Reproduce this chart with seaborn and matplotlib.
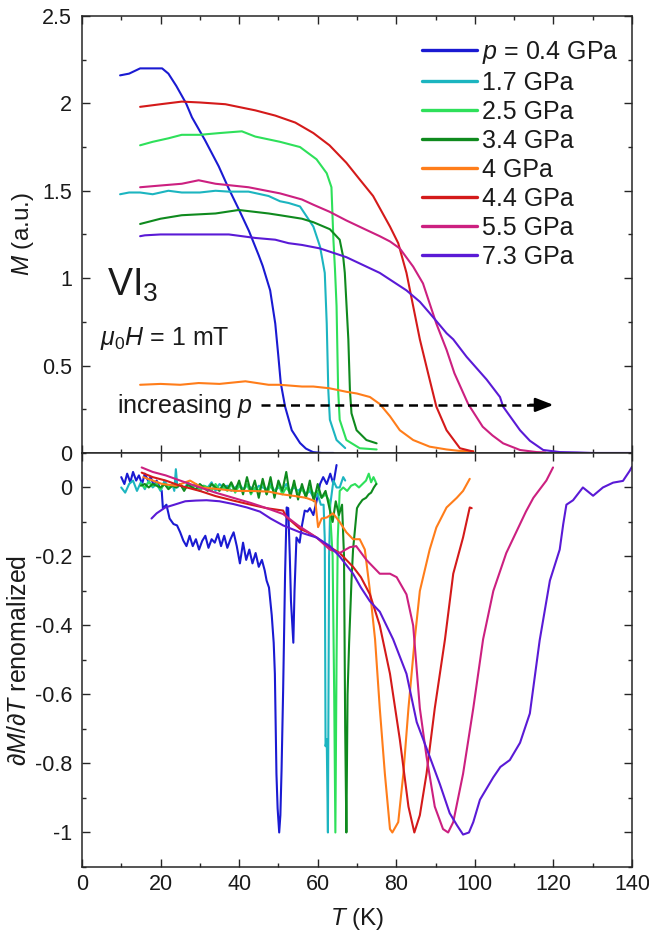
import numpy as np
import pandas as pd
import matplotlib
matplotlib.use("Agg")
import matplotlib.pyplot as plt
from matplotlib.lines import Line2D
from matplotlib.ticker import MultipleLocator, FuncFormatter
import seaborn as sns

# ---------------- data ----------------
labels = ["$p$ = 0.4 GPa", "1.7 GPa", "2.5 GPa", "3.4 GPa",
          "4 GPa", "4.4 GPa", "5.5 GPa", "7.3 GPa"]
colors = ["#1a1ad2", "#1cb5c0", "#2ee05a", "#0f8a1e",
          "#ff7d1a", "#d41a1a", "#cc2080", "#5a1ad6"]

# magnetisation M(T), a.u.
T_04 = [9.7, 12, 14.8, 17, 20.4, 22, 24, 26.5, 28, 31.3, 34.8, 37.4, 40, 42.5, 45, 46,
        47.9, 49.2, 50.0, 50.6, 51.7, 53.4, 55.5, 57, 58.8, 61, 64]
M_04 = [2.16, 2.17, 2.20, 2.20, 2.20, 2.17, 2.10, 2.00, 1.92, 1.79, 1.64, 1.51, 1.39, 1.27,
        1.13, 1.07, 0.93, 0.74, 0.55, 0.40, 0.265, 0.13, 0.057, 0.025, 0.005, 0.0, 0.0]

T_17 = [9.7, 12, 14.8, 18, 22, 25.4, 30, 34, 37.3, 42.4, 47.5, 50.4, 52.6, 55.5, 58.9,
        60.6, 61.8, 62.3, 62.7, 63.1, 64.8, 67]
M_17 = [1.48, 1.49, 1.49, 1.48, 1.50, 1.49, 1.49, 1.50, 1.495, 1.495, 1.47, 1.44, 1.43,
        1.41, 1.295, 1.18, 1.03, 0.74, 0.36, 0.19, 0.074, 0.028]

T_25 = [14.8, 18, 22, 25.4, 30, 35, 40.7, 44.1, 50.4, 55.5, 59.7, 62.3, 63.5, 64.0,
        64.4, 64.8, 65.2, 65.6, 67.3, 70.7, 75]
M_25 = [1.76, 1.78, 1.80, 1.82, 1.82, 1.83, 1.84, 1.81, 1.78, 1.75, 1.68, 1.60, 1.52, 1.22,
        1.05, 0.84, 0.36, 0.19, 0.074, 0.027, 0.02]

T_34 = [14.8, 20, 25.4, 34, 39.9, 47.5, 50.4, 56, 58.9, 63.1, 65.6, 66.5, 66.9, 67.8,
        68.2, 68.6, 69.9, 72.4, 75]
M_34 = [1.31, 1.34, 1.36, 1.37, 1.39, 1.37, 1.36, 1.34, 1.32, 1.28, 1.22, 1.12, 1.03, 0.65,
        0.36, 0.227, 0.13, 0.074, 0.055]

T_40 = [14.8, 20, 25, 29.7, 35, 41.6, 47.5, 50.4, 56, 58.9, 63, 67.3, 70, 73.3, 75.8,
        78.4, 80.9, 84.3, 88.5, 92.8, 96, 99.6]
M_40 = [0.39, 0.395, 0.39, 0.40, 0.395, 0.41, 0.39, 0.39, 0.38, 0.38, 0.37, 0.35, 0.34,
        0.32, 0.28, 0.21, 0.13, 0.074, 0.036, 0.02, 0.012, 0.01]

T_44 = [14.8, 20, 25.4, 30, 36.5, 44.1, 49.2, 54.3, 58.9, 63, 67.3, 70.5, 74.1, 78.4,
        80.5, 82.6, 84.3, 86, 88.1, 90.2, 92.8, 96.2, 99.6]
M_44 = [1.98, 1.995, 2.01, 2.005, 1.995, 1.96, 1.93, 1.89, 1.83, 1.76, 1.66, 1.57, 1.47,
        1.295, 1.20, 1.03, 0.84, 0.65, 0.456, 0.265, 0.13, 0.027, 0.008]

T_55 = [14.8, 20, 25.4, 29.7, 34, 42.4, 50.4, 56, 58.9, 63, 67.3, 72, 75.8, 78.4, 80.9,
        84.3, 86.8, 90.2, 92.8, 94.8, 98.3, 102, 104.5, 107.2, 111.5, 115.7, 118]
M_55 = [1.52, 1.53, 1.54, 1.56, 1.54, 1.52, 1.485, 1.45, 1.42, 1.38, 1.33, 1.28, 1.24,
        1.21, 1.17, 1.066, 0.97, 0.74, 0.59, 0.456, 0.28, 0.15, 0.10, 0.055, 0.017, 0.005,
        0.003]

T_73 = [14.8, 16, 20, 25.4, 30, 37.4, 44.1, 49.2, 52.6, 56, 60.6, 67.3, 75.8, 82.6, 86,
        88.5, 92.8, 94.5, 97.9, 103, 106.4, 107.2, 111.5, 114, 117.4, 121.6, 126, 130,
        135, 140]
M_73 = [1.24, 1.245, 1.25, 1.25, 1.25, 1.25, 1.23, 1.22, 1.20, 1.19, 1.17, 1.12, 1.03,
        0.93, 0.865, 0.80, 0.685, 0.65, 0.55, 0.42, 0.32, 0.265, 0.13, 0.07, 0.017, 0.005,
        0.003, 0.0, 0.0, 0.0]

# renormalised derivative dM/dT
dT_04 = [10, 10.8, 11.5, 12.3, 13, 13.8, 14.5, 15.3, 16, 16.8, 17.5, 18.3, 19, 19.8, 20.3,
         20.6, 21.5, 22.3, 23.3, 24.2, 25, 25.8, 26.6, 27.4, 28.2, 29, 29.8, 30.6, 31.4,
         32.2, 33, 33.8, 34.6, 35.4, 36.2, 37, 37.8, 38.6, 39.4, 40.2, 41, 41.8, 42.6,
         43.4, 44.2, 45, 45.8, 46.5, 47, 47.6, 48.3, 48.8, 49.1, 49.5, 49.8, 50.2, 50.5,
         50.8, 51.2, 51.7, 52.1, 52.5, 52.9, 53.2, 53.8, 54.1, 54.6, 55.4, 56, 56.7, 57.4,
         58, 58.9, 59.7, 60.6, 61.4, 62.3, 63.2, 64, 64.8]
D_04 = [0.03, 0.01, 0.04, 0.015, 0.045, 0.02, 0.035, 0.01, 0.04, 0.02, 0.03, 0.005, 0.02,
        0.0, -0.01, -0.06, -0.05, -0.09, -0.106, -0.11, -0.13, -0.154, -0.17, -0.14, -0.17,
        -0.15, -0.18, -0.155, -0.14, -0.175, -0.15, -0.16, -0.135, -0.17, -0.14, -0.175,
        -0.15, -0.13, -0.17, -0.22, -0.16, -0.21, -0.18, -0.22, -0.19, -0.23, -0.21, -0.24,
        -0.27, -0.29, -0.37, -0.45, -0.54, -0.83, -0.93, -1.0, -0.95, -0.82, -0.59, -0.25,
        -0.058, -0.06, -0.2, -0.33, -0.45, -0.3, -0.145, -0.16, -0.11, -0.067, -0.07,
        -0.06, -0.08, -0.04, 0.01, 0.03, 0.01, 0.04, 0.01, 0.065]

dT_17 = [10, 11, 12, 13, 14, 15, 16, 17, 18, 19, 20, 21, 22, 23, 23.5, 23.9, 24.3, 25, 26,
         27, 28, 29, 30, 31, 32, 33, 34, 35, 36, 37, 38, 39, 40, 41, 42, 43, 44, 45, 46,
         47, 48, 49, 50, 51, 52, 53, 54, 55, 56, 57, 58, 59, 60, 60.8, 61.5, 61.8, 62.0,
         62.3, 62.6, 62.9, 63.2, 64, 64.8, 65.6, 66.5, 67]
D_17 = [0.0, -0.015, 0.01, 0.02, -0.01, 0.015, -0.005, 0.02, 0.0, 0.01, -0.01, 0.02, 0.0,
        0.01, -0.01, 0.053, 0.0, 0.01, -0.005, 0.015, 0.0, 0.01, -0.01, 0.005, 0.0, 0.015,
        -0.01, 0.01, 0.0, 0.005, -0.01, 0.0, 0.01, -0.005, 0.005, 0.0, -0.01, 0.005, 0.0,
        -0.005, 0.01, -0.01, 0.0, -0.005, 0.01, -0.01, 0.0, -0.01, 0.0, -0.02, -0.01,
        -0.03, -0.02, -0.05, -0.05, -0.15, -0.75, -0.73, -1.0, -0.2, -0.05, 0.02, 0.0,
        0.0, 0.03, 0.02]

dT_25 = [15, 16, 17, 18, 19, 20, 21, 22, 23, 24, 25, 26, 27, 28, 29, 30, 31, 32, 33, 34,
         35, 36, 37, 38, 39, 40, 41, 42, 43, 44, 45, 46, 47, 48, 49, 50, 51, 52, 53, 54,
         55, 56, 57, 58, 59, 60, 61, 62, 63, 63.8, 64.2, 64.5, 64.8, 65.1, 65.6, 66.5,
         67.5, 68.5, 69.5, 70.5, 71.4, 72.3, 73, 73.6, 74.2, 74.6, 75]
D_25 = [0.01, 0.0, 0.015, 0.005, 0.01, -0.005, 0.01, 0.0, 0.005, 0.0, 0.01, -0.005, 0.005,
        0.0, 0.01, -0.01, 0.005, 0.0, -0.01, 0.01, -0.005, 0.0, -0.01, 0.01, -0.015, 0.005,
        -0.01, 0.01, -0.02, 0.0, -0.01, 0.015, -0.02, 0.005, -0.015, 0.01, -0.02, 0.0,
        -0.015, 0.01, -0.02, -0.005, -0.025, 0.0, -0.02, -0.01, -0.03, -0.02, -0.04, -0.2,
        -0.6, -1.0, -0.5, -0.15, -0.01, 0.0, -0.01, 0.005, 0.01, 0.0, 0.01, 0.02, 0.04,
        0.015, 0.03, 0.02, 0.01]

dT_34 = [15, 16, 17, 18, 19, 20, 21, 22, 23, 24, 25, 26, 27, 28, 29, 30, 31, 32, 33, 34,
         35, 36, 37, 38, 39, 40, 41, 42, 43, 44, 45, 46, 47, 48, 49, 50, 51, 52, 53, 54,
         55, 56, 57, 58, 59, 60, 61, 62, 63, 63.8, 64.6, 65.4, 66.2, 66.7, 67.0, 67.3,
         67.6, 68.0, 68.6, 69.0, 70.0, 70.5, 71.4, 72.3, 73, 73.6, 74.3, 74.9]
D_34 = [0.005, 0.01, 0.0, 0.01, 0.005, 0.0, 0.01, -0.005, 0.005, 0.0, 0.01, -0.01, 0.01,
        0.0, -0.005, 0.01, 0.0, -0.01, 0.01, 0.0, -0.01, 0.01, -0.005, 0.015, -0.01, 0.02,
        -0.02, 0.03, -0.015, 0.02, -0.03, 0.025, -0.02, 0.03, -0.03, 0.02, -0.01, 0.045,
        -0.03, 0.02, -0.035, 0.01, -0.03, 0.02, -0.04, 0.01, -0.03, -0.01, -0.06, -0.1,
        -0.04, -0.08, -0.05, -0.2, -0.7, -1.0, -0.6, -0.45, -0.27, -0.18, -0.06, -0.05,
        -0.036, -0.03, -0.02, -0.015, 0.0, 0.01]

dT_40 = [15.6, 18, 20.4, 24, 27.5, 30.5, 35, 39, 43, 47.5, 51, 54.3, 57, 59.4, 60.1, 61,
         62.3, 63.9, 65.6, 67.3, 69, 70.7, 72, 73.3, 74.6, 75.8, 77.1, 78.4, 79, 80.5,
         81.8, 83.1, 84.7, 86, 88.5, 90.2, 92.8, 95.4, 97, 98.7]
D_40 = [0.03, 0.02, 0.01, 0.005, 0.02, 0.0, -0.005, -0.01, -0.01, -0.012, -0.02, -0.025,
        -0.03, -0.04, -0.115, -0.09, -0.087, -0.075, -0.1, -0.13, -0.15, -0.15, -0.18,
        -0.3, -0.44, -0.64, -0.83, -0.99, -1.0, -0.97, -0.83, -0.64, -0.44, -0.3, -0.18,
        -0.116, -0.058, -0.03, -0.01, 0.025]

dT_44 = [15.2, 18, 21.3, 25, 30, 34, 38.5, 43, 47, 51.2, 52, 53.5, 55.5, 57.5, 59.7, 61.5,
         63.1, 65.6, 69, 71, 73.3, 75.8, 78.4, 80.9, 83.1, 84.6, 86, 87.7, 89.8, 92.4,
         94.5, 97, 98.7, 99.2]
D_44 = [0.043, 0.03, 0.02, 0.005, -0.01, -0.025, -0.038, -0.05, -0.06, -0.067, -0.085,
        -0.1, -0.12, -0.13, -0.145, -0.16, -0.173, -0.19, -0.23, -0.26, -0.31, -0.40,
        -0.54, -0.73, -0.925, -1.0, -0.95, -0.83, -0.64, -0.44, -0.25, -0.145, -0.058,
        -0.06]

dT_55 = [15.2, 18, 21.3, 25, 30, 34, 38.5, 43, 47, 51.2, 55, 59.7, 63.1, 65.6, 68.2,
         69.8, 72.4, 75.8, 78.4, 80.1, 82.6, 84.3, 86, 87.7, 89.8, 91.9, 93.2, 94.5, 97,
         99.6, 102.1, 104.7, 108, 111.5, 113, 114.9, 118.2, 119.9]
D_55 = [0.058, 0.045, 0.035, 0.02, 0.0, -0.015, -0.03, -0.045, -0.06, -0.077, -0.11,
        -0.145, -0.18, -0.19, -0.173, -0.17, -0.21, -0.25, -0.25, -0.26, -0.31, -0.40,
        -0.64, -0.78, -0.925, -0.99, -1.0, -0.97, -0.83, -0.64, -0.44, -0.3, -0.19,
        -0.106, -0.07, -0.03, 0.02, 0.058]

dT_73 = [17.7, 19, 21.2, 23.5, 26.3, 29, 31.7, 35, 38.5, 42, 45.3, 48, 51.2, 55.5, 59.7,
         63.1, 65.6, 69, 71, 73.3, 75.8, 79.2, 82.6, 85.2, 88.5, 91.1, 93.6, 95.5, 97,
         98.5, 99.6, 101.3, 104.7, 106.5, 108.9, 111.5, 114, 116.5, 119.1, 121.6, 122.5,
         123.3, 125, 127.5, 130.1, 132.6, 135.2, 137.7, 139.4, 140]
D_73 = [-0.09, -0.075, -0.058, -0.05, -0.04, -0.038, -0.037, -0.04, -0.048, -0.058,
        -0.07, -0.09, -0.11, -0.13, -0.145, -0.17, -0.2, -0.25, -0.29, -0.33, -0.36,
        -0.44, -0.54, -0.68, -0.78, -0.86, -0.944, -0.98, -1.006, -1.0, -0.97, -0.905,
        -0.84, -0.81, -0.79, -0.74, -0.655, -0.443, -0.27, -0.18, -0.106, -0.05, -0.037,
        0.0, -0.024, 0.0, 0.014, 0.019, 0.048, 0.06]

M_series = [(T_04, M_04), (T_17, M_17), (T_25, M_25), (T_34, M_34),
            (T_40, M_40), (T_44, M_44), (T_55, M_55), (T_73, M_73)]
D_series = [(dT_04, D_04), (dT_17, D_17), (dT_25, D_25), (dT_34, D_34),
            (dT_40, D_40), (dT_44, D_44), (dT_55, D_55), (dT_73, D_73)]

# ---------------- style ----------------
sns.set_theme(style="ticks")
plt.rcParams["font.family"] = ["Liberation Sans", "DejaVu Sans"]
plt.rcParams["mathtext.fontset"] = "custom"
plt.rcParams["mathtext.rm"] = "Liberation Sans"
plt.rcParams["mathtext.it"] = "Liberation Sans:italic"
plt.rcParams["mathtext.bf"] = "Liberation Sans:bold"
plt.rcParams["axes.unicode_minus"] = False

ink = "#262626"
txt = "#1a1a1a"
fig = plt.figure(figsize=(6.49, 9.38), dpi=100)
ax1 = fig.add_axes([0.1263, 0.5171, 0.8475, 0.4659])
ax2 = fig.add_axes([0.1263, 0.0757, 0.8475, 0.4414])


def frame(ax):
    for s in ax.spines.values():
        s.set_color(ink)
        s.set_linewidth(1.1)
    ax.tick_params(which="both", direction="in", top=True, right=True,
                   colors=ink, labelcolor=txt, labelsize=15.5)
    ax.tick_params(which="major", length=5.5, width=1.0)
    ax.tick_params(which="minor", length=3.0, width=1.0)
    ax.set_xlim(0, 140)
    ax.xaxis.set_major_locator(MultipleLocator(20))
    ax.xaxis.set_minor_locator(MultipleLocator(10))
    ax.tick_params(axis="y", pad=7)
    ax.tick_params(axis="x", pad=5)


fmt = FuncFormatter(lambda v, _: "%g" % round(v, 3))

df_M = pd.concat([pd.DataFrame({"T": t, "M": m, "p": lab})
                  for (t, m), lab in zip(M_series, labels)], ignore_index=True)
df_D = pd.concat([pd.DataFrame({"T": t, "D": d, "p": lab})
                  for (t, d), lab in zip(D_series, labels)], ignore_index=True)
palette = dict(zip(labels, colors))

# top: magnetisation
sns.lineplot(data=df_M, x="T", y="M", hue="p", hue_order=labels, palette=palette,
             estimator=None, sort=False, linewidth=1.5, legend=False, ax=ax1)
frame(ax1)
ax1.set_ylim(0, 2.5)
ax1.yaxis.set_major_locator(MultipleLocator(0.5))
ax1.yaxis.set_minor_locator(MultipleLocator(0.25))
ax1.yaxis.set_major_formatter(fmt)
ax1.tick_params(axis="x", labelbottom=False)
ax1.set_xlabel("")
ax1.set_ylabel("$M$ (a.u.)", fontsize=17.5, color=txt)
ax1.yaxis.set_label_coords(-0.083, 0.5)

handles = [Line2D([], [], color=c, lw=2.4) for c in colors]
ax1.legend(handles, labels, loc="upper left", bbox_to_anchor=(0.618, 0.947),
           frameon=False, fontsize=18, handlelength=2.2, handletextpad=0.22,
           labelspacing=0.2, borderpad=0, borderaxespad=0, labelcolor=txt)

ax1.text(6.4, 0.90, "VI$_3$", fontsize=27, color=txt, va="baseline")
ax1.text(4.6, 0.62, r"$\mu_0H$ = 1 mT", fontsize=18, color=txt, va="baseline")
ax1.text(8.9, 0.27, "increasing $p$", fontsize=18, color=txt, va="center")
ax1.plot([45.5, 115], [0.275, 0.275], color="black", lw=1.8, ls=(0, (3.6, 2.3)))
ax1.annotate("", xy=(120, 0.275), xytext=(114, 0.275),
             arrowprops=dict(arrowstyle="-|>,head_length=0.9,head_width=0.35",
                             color="black", lw=1.8, shrinkA=0, shrinkB=0))

# bottom: derivative
sns.lineplot(data=df_D, x="T", y="D", hue="p", hue_order=labels, palette=palette,
             estimator=None, sort=False, linewidth=1.5, legend=False, ax=ax2)
frame(ax2)
ax2.set_ylim(-1.1, 0.1)
ax2.yaxis.set_major_locator(MultipleLocator(0.2))
ax2.yaxis.set_minor_locator(MultipleLocator(0.1))
ax2.yaxis.set_major_formatter(fmt)
ax2.xaxis.set_major_formatter(fmt)
ax2.set_ylabel(r"$\partial M/\partial T$ renomalized", fontsize=18, color=txt)
ax2.yaxis.set_label_coords(-0.092, 0.5)
ax2.set_xlabel("$T$ (K)", fontsize=17.5, color=txt)
ax2.xaxis.set_label_coords(0.5, -0.095)

fig.savefig("out.png", dpi=100)
